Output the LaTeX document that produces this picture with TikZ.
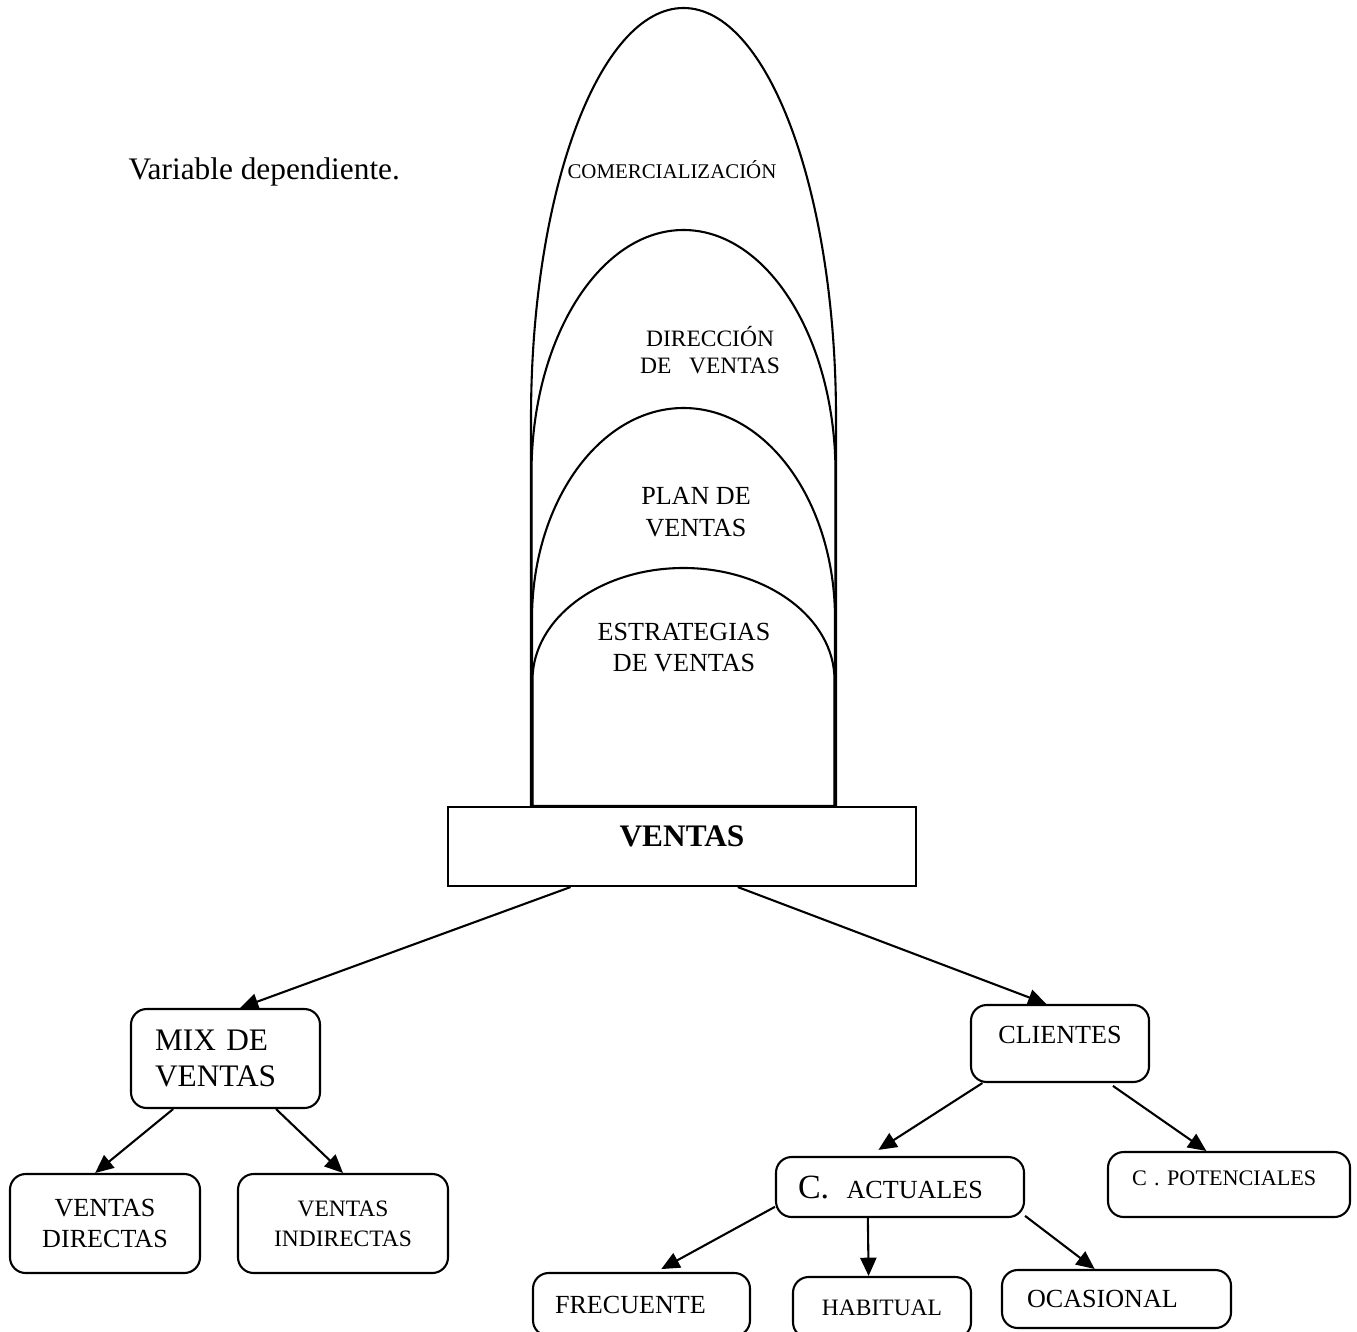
\documentclass[tikz,border=0pt]{standalone}
\usepackage{fontspec}
\setmainfont{Liberation Serif}
\usetikzlibrary{arrows.meta}

\newcommand{\px}{0.383pt}
\newcommand{\fs}[2]{\fontsize{#1}{#2}\selectfont}

\tikzset{
  caja/.style={draw, line width=0.8pt, rounded corners=6pt, inner sep=0pt, align=center},
  flecha/.style={line width=0.8pt, -{Triangle[length=7pt,width=6.2pt]}},
  arco/.style={line width=0.8pt}
}

\begin{document}
\begin{tikzpicture}[x=0.383pt, y=-0.383pt]
  \useasboundingbox (0,0) rectangle (1357,1331);
  \clip (0,0) rectangle (1357,1331);

  \node[anchor=base west, inner sep=0pt, font=\fs{12}{14}] (titulo) at (128,180) {Variable dependiente.};

  % arcos
  \draw[arco] (531,807) -- (531,418) arc[start angle=180, end angle=0, x radius=152.5*\px, y radius=410*\px] -- (836,807);
  \draw[arco] (531.5,807) -- (531.5,473) arc[start angle=180, end angle=0, x radius=152*\px, y radius=243*\px] -- (835.5,807);
  \draw[arco] (532,807) -- (532,619) arc[start angle=180, end angle=0, x radius=151.5*\px, y radius=211*\px] -- (835,807);
  \draw[arco] (532.5,806) -- (532.5,680) arc[start angle=180, end angle=0, x radius=151*\px, y radius=112*\px] -- (834.5,806) -- cycle;

  \node[anchor=base west, inner sep=0pt, font=\fs{8}{9.6}] (comer) at (567,179) {COMERCIALIZACIÓN};
  \node[font=\fs{9}{10.4}, align=center] (direc) at (710,350) {DIRECCIÓN\\DE\ \ \ VENTAS};
  \node[font=\fs{10}{12.3}, align=center] (plan) at (696,512.5) {PLAN DE\\VENTAS};
  \node[font=\fs{10}{11.9}, align=center] (estra) at (684,648) {ESTRATEGIAS\\DE VENTAS};

  % cajas
  \node[draw, line width=0.8pt, inner sep=0pt, minimum width=468*\px, minimum height=79*\px, text depth=7.7pt, font=\bfseries\fs{12}{14}] (ventas) at (682,846.5) {VENTAS};

  \node[caja, minimum width=189*\px, minimum height=99*\px, text width=141*\px, align=left, font=\fs{12}{13.8}] (mix) at (225.5,1058.5) {MIX DE\\VENTAS};
  \node[caja, minimum width=178*\px, minimum height=77*\px, text depth=6.5pt, font=\fs{10}{12}] (clientes) at (1060,1043.5) {CLIENTES};

  \node[caja, minimum width=190*\px, minimum height=99*\px, font=\fs{10}{12}] (directas) at (105,1223.5) {VENTAS\\DIRECTAS};
  \node[caja, minimum width=210*\px, minimum height=99*\px, font=\fs{9}{11.5}] (indirectas) at (343,1223.5) {VENTAS\\INDIRECTAS};

  \node[caja, minimum width=248*\px, minimum height=60*\px, text width=204*\px, align=left, font=\fs{10}{12}] (actuales) at (900,1187) {{\fs{13}{15}C.}\ \ ACTUALES};
  \node[caja, minimum width=242*\px, minimum height=65*\px, text width=194*\px, align=left, text depth=5pt, font=\fs{8.5}{10}] (potenciales) at (1229,1184.5) {C . POTENCIALES};

  \node[caja, minimum width=217*\px, minimum height=63*\px, text width=173*\px, align=left, font=\fs{10}{12}] (frecuente) at (641.5,1304.5) {FRECUENTE};
  \node[caja, minimum width=178*\px, minimum height=61*\px, font=\fs{9}{11}] (habitual) at (882,1307.5) {HABITUAL};
  \node[caja, minimum width=229*\px, minimum height=58*\px, text width=179*\px, align=left, font=\fs{10}{12}] (ocasional) at (1116.5,1299) {OCASIONAL};

  % flechas
  \draw[flecha] (ventas.200.4) -- (mix.74);
  \draw[flecha] (ventas.324.8) -- (clientes.109.5);
  \draw[flecha] (mix.224.4) -- (directas.101.4);
  \draw[flecha] (mix.315) -- (indirectas.north);
  \draw[flecha, shorten >=4.3pt] (clientes.207.2) -- (actuales.135);
  \draw[flecha, shorten <=1.9pt] (clientes.321.3) -- (potenciales.124.1);
  \draw[flecha, shorten >=2.3pt] (actuales.189.5) -- (frecuente.66.8);
  \draw[flecha] (actuales.224) -- (habitual.113.1);
  \draw[flecha] (actuales.347.3) -- (ocasional.126.6);
\end{tikzpicture}
\end{document}
